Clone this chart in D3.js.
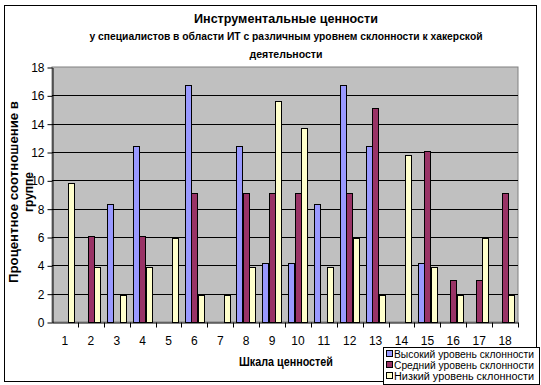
<!DOCTYPE html>
<html>
<head>
<meta charset="utf-8">
<script src="https://cdn.jsdelivr.net/npm/d3@7"></script>
<style>
  body { margin: 0; background: #fff; }
  text { font-family: "Liberation Sans", Arial, sans-serif; fill: #000; }
</style>
</head>
<body>
<div id="chart"></div>
<script>
const categories = ["1","2","3","4","5","6","7","8","9","10","11","12","13","14","15","16","17","18"];
const seriesNames = ["Высокий уровень склонности", "Средний уровень склонности", "Низкий уровень склонности"];
const highValues = [0, 0, 8.3, 12.4, 0, 16.7, 0, 12.4, 4.2, 4.2, 8.3, 16.7, 12.4, 0, 4.2, 0, 0, 0];
const midValues = [0, 6.1, 0, 6.1, 0, 9.1, 0, 9.1, 9.1, 9.1, 0, 9.1, 15.1, 0, 12.1, 3.0, 3.0, 9.1];
const lowValues = [9.8, 3.9, 1.9, 3.9, 5.9, 1.9, 1.9, 3.9, 15.6, 13.7, 3.9, 5.9, 1.9, 11.8, 3.9, 1.9, 5.9, 1.9];
const yTicks = [0, 2, 4, 6, 8, 10, 12, 14, 16, 18];
const colors = ["#9999FF", "#993366", "#FFFFCC"];

const drawChart = () => {
  const chartSize = { width: 541, height: 385 };
  const plot = { left: 52, right: 518, top: 67, bottom: 322 };

  const svg = d3.select("#chart")
    .append("svg")
    .attr("width", chartSize.width)
    .attr("height", chartSize.height);

  // outer chart frame
  svg.append("rect")
    .attr("x", 4.5).attr("y", 5.5)
    .attr("width", 532).attr("height", 376)
    .attr("fill", "#fff").attr("stroke", "#000");

  const x = d3.scaleBand()
    .domain(categories)
    .range([plot.left, plot.right]);

  const bw = x.bandwidth();
  const xs = d3.scaleBand()
    .domain(d3.range(3))
    .range([bw / 8, bw * 7 / 8]);

  const y = d3.scaleLinear()
    .domain([0, 18])
    .range([plot.bottom, plot.top]);

  svg.append("rect")
    .attr("x", plot.left).attr("y", plot.top)
    .attr("width", plot.right - plot.left)
    .attr("height", plot.bottom - plot.top)
    .attr("fill", "#C0C0C0")
    .attr("stroke", "#808080");

  svg.append("g")
    .selectAll("line")
    .data(yTicks.filter(d => d > 0 && d < 18))
    .join("line")
    .attr("x1", plot.left).attr("x2", plot.right)
    .attr("y1", d => Math.round(y(d)) + 0.5)
    .attr("y2", d => Math.round(y(d)) + 0.5)
    .attr("stroke", "#000");

  const series = [highValues, midValues, lowValues];
  series.forEach((vals, si) => {
    svg.append("g")
      .selectAll("rect")
      .data(vals.map((v, i) => ({ cat: categories[i], v })).filter(d => d.v > 0))
      .join("rect")
      .attr("x", d => Math.round(x(d.cat) + xs(si)) + 0.5)
      .attr("y", d => Math.round(y(d.v)) + 0.5)
      .attr("width", Math.round(xs.bandwidth()))
      .attr("height", d => Math.round(y(0)) - Math.round(y(d.v)))
      .attr("fill", colors[si])
      .attr("stroke", "#000");
  });

  // y axis
  const yAxis = d3.axisLeft(y)
    .tickValues(yTicks)
    .tickSize(5)
    .tickSizeOuter(0)
    .tickPadding(3);
  const gy = svg.append("g")
    .attr("transform", `translate(${plot.left + 0.5},0.5)`)
    .call(yAxis);
  gy.selectAll("text").style("font-size", "12px").style("fill", "#000");
  gy.selectAll("line, path").attr("stroke", "#000");

  // x axis
  const xAxis = d3.axisBottom(x).tickSize(0).tickPadding(14);
  const gx = svg.append("g")
    .attr("transform", `translate(0,${plot.bottom + 0.5})`)
    .call(xAxis);
  gx.select(".domain").attr("stroke", "#000");
  gx.selectAll("text").style("font-size", "12px").style("fill", "#000");
  gx.selectAll(".bound")
    .data(categories.slice(1).concat(["end"]))
    .join("line")
    .attr("x1", (d, i) => Math.round(plot.left + bw * (i + 1)) + 0.5)
    .attr("x2", (d, i) => Math.round(plot.left + bw * (i + 1)) + 0.5)
    .attr("y1", 0).attr("y2", 5)
    .attr("stroke", "#000");

  // titles
  svg.append("text")
    .attr("x", 286).attr("y", 23)
    .attr("text-anchor", "middle")
    .attr("textLength", 184).attr("lengthAdjust", "spacingAndGlyphs")
    .style("font-size", "13px").style("font-weight", "bold")
    .text("Инструментальные ценности");
  svg.append("text")
    .attr("x", 286).attr("y", 40)
    .attr("text-anchor", "middle")
    .attr("textLength", 393).attr("lengthAdjust", "spacingAndGlyphs")
    .style("font-size", "11px").style("font-weight", "bold")
    .text("у специалистов в области ИТ с различным уровнем склонности к хакерской");
  svg.append("text")
    .attr("x", 286).attr("y", 58)
    .attr("text-anchor", "middle")
    .attr("textLength", 73).attr("lengthAdjust", "spacingAndGlyphs")
    .style("font-size", "11px").style("font-weight", "bold")
    .text("деятельности");

  // y title
  const yt = svg.append("text")
    .attr("transform", "translate(0,192) rotate(-90)")
    .attr("text-anchor", "middle")
    .style("font-size", "12px").style("font-weight", "bold");
  yt.append("tspan").attr("x", 0).attr("y", 18)
    .attr("textLength", 182).attr("lengthAdjust", "spacingAndGlyphs")
    .text("Процентное соотношение в");
  yt.append("tspan").attr("x", 0).attr("y", 33).text("группе");

  // x title
  svg.append("text")
    .attr("x", 286).attr("y", 366)
    .attr("text-anchor", "middle")
    .attr("textLength", 94).attr("lengthAdjust", "spacingAndGlyphs")
    .style("font-size", "12px").style("font-weight", "bold")
    .text("Шкала ценностей");

  // legend
  const lg = svg.append("g").attr("transform", "translate(383,347)");
  lg.append("rect")
    .attr("x", 0.5).attr("y", 0.5)
    .attr("width", 156).attr("height", 37)
    .attr("fill", "#fff").attr("stroke", "#000");
  seriesNames.forEach((name, i) => {
    const row = lg.append("g").attr("transform", `translate(0,${7 + i * 11})`);
    row.append("rect")
      .attr("x", 3.5).attr("y", -3.5)
      .attr("width", 6).attr("height", 6)
      .attr("fill", colors[i]).attr("stroke", "#000");
    row.append("text")
      .attr("x", 11).attr("y", 4)
      .attr("textLength", 140).attr("lengthAdjust", "spacingAndGlyphs")
      .style("font-size", "10px")
      .text(name);
  });
};

window.onload = drawChart;
</script>
</body>
</html>
